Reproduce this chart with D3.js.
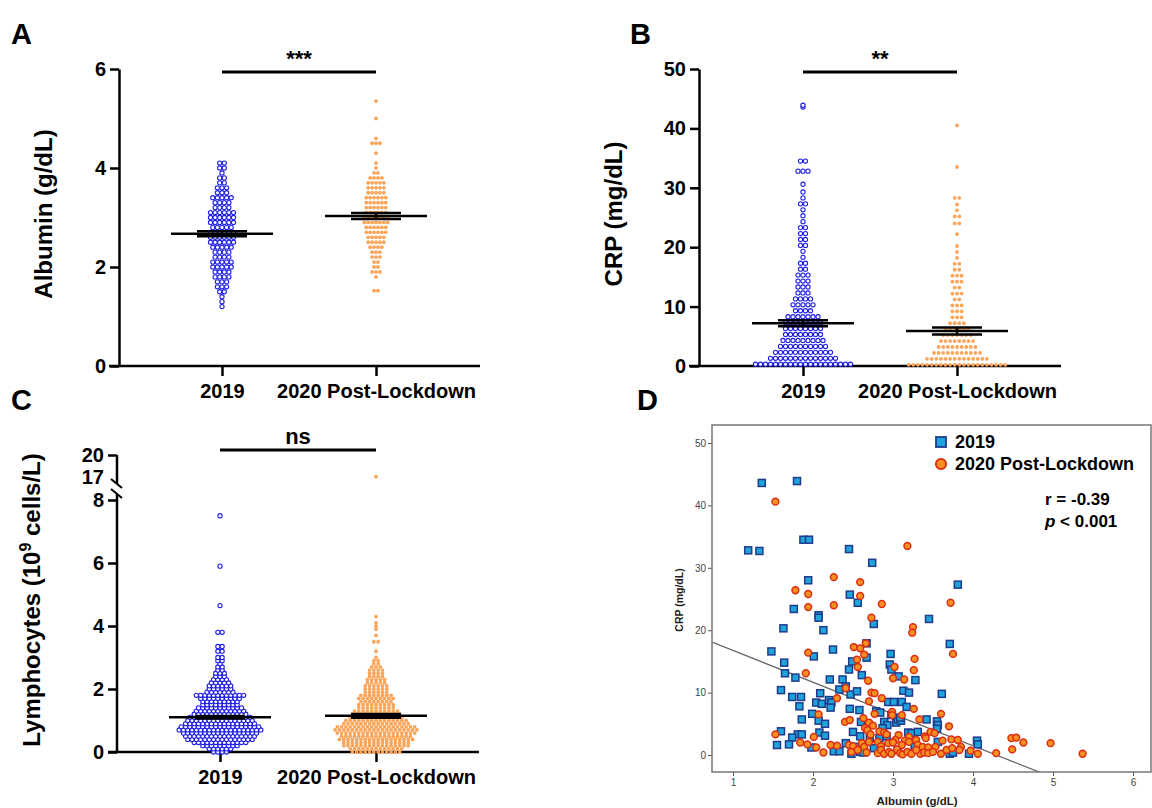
<!DOCTYPE html>
<html>
<head>
<meta charset="utf-8">
<script src="https://cdn.jsdelivr.net/npm/d3@7"></script>
<style>
body { margin: 0; background: #fff; }
svg { display: block; }
text { font-family: "Liberation Sans", Arial, sans-serif; }
</style>
</head>
<body>
<svg width="1152" height="808"></svg>
<script>
var groups = ["2019", "2020 Post-Lockdown"];

// swarm rows: [value, number of dots in the row]
var albumin2019 = [[1.2,1],[1.3,1],[1.4,1],[1.5,2],[1.6,3],[1.7,3],[1.8,4],[1.9,4],[2.0,5],[2.1,5],[2.2,4],[2.3,4],[2.4,5],[2.5,6],[2.6,6],[2.7,6],[2.8,5],[2.9,6],[3.0,6],[3.1,6],[3.2,4],[3.3,4],[3.4,5],[3.5,3],[3.6,3],[3.7,2],[3.8,2],[3.9,1],[4.0,2],[4.1,2]];
var albumin2020 = [[1.52,2],[1.8,1],[1.9,3],[2.0,2],[2.1,2],[2.2,3],[2.3,3],[2.4,4],[2.5,5],[2.6,5],[2.7,6],[2.8,6],[2.9,7],[3.0,7],[3.1,6],[3.2,6],[3.3,6],[3.4,6],[3.5,5],[3.6,5],[3.7,5],[3.8,4],[3.9,2],[4.0,1],[4.1,1],[4.3,1],[4.5,3],[4.6,1],[5.0,1],[5.35,1]];
var albuminMean = [2.67, 3.03], albuminSem = [0.05, 0.06];

var crp2019 = [[0.3,20],[1.3,14],[2.3,12],[3.3,10],[4.3,9],[5.3,8],[6.3,8],[7.3,8],[8.3,7],[9.3,4],[10.3,5],[11.3,4],[12.3,3],[13.3,3],[14.3,3],[15.3,3],[16.3,2],[17.3,2],[18.3,1],[19.3,1],[20.3,2],[21.3,2],[22.3,2],[23.3,2],[24.3,1],[25.3,1],[26.3,1],[27.3,2],[28.3,1],[29.3,1],[30.6,1],[32.8,3],[34.5,2],[43.6,1],[43.9,1]];
var crp2020 = [[0.2,22],[1.2,14],[2.2,11],[3.2,9],[4.2,8],[5.2,7],[6.2,6],[7.2,4],[8.2,3],[9.2,3],[10.2,3],[11.2,2],[12.2,3],[13.2,2],[14.2,3],[15.2,3],[16.2,2],[17.2,2],[18.2,1],[19.2,1],[20.2,1],[22.2,1],[24.0,2],[25.2,2],[26.2,1],[27.2,1],[28.3,2],[33.5,1],[40.5,1]];
var crpMean = [7.2, 5.9], crpSem = [0.5, 0.6];

var lym2019 = [[0.0,4],[0.1,6],[0.2,9],[0.3,13],[0.4,16],[0.5,17],[0.6,18],[0.7,20],[0.8,19],[0.9,17],[1.0,16],[1.1,15],[1.2,13],[1.3,12],[1.4,11],[1.5,9],[1.6,9],[1.7,10],[1.8,12],[1.9,7],[2.0,6],[2.1,6],[2.2,5],[2.3,4],[2.4,3],[2.5,3],[2.6,2],[2.7,2],[2.8,1],[2.9,2],[3.0,2],[3.2,2],[3.35,2],[3.8,2],[4.65,1],[5.9,1],[7.5,1]];
var lym2020 = [[0.0,12],[0.1,13],[0.2,16],[0.3,16],[0.4,18],[0.5,17],[0.6,19],[0.7,20],[0.8,19],[0.9,16],[1.0,15],[1.1,13],[1.2,12],[1.3,11],[1.4,9],[1.5,9],[1.6,8],[1.7,9],[1.8,8],[1.9,6],[2.0,6],[2.1,6],[2.2,5],[2.3,5],[2.4,4],[2.5,4],[2.6,4],[2.7,3],[2.8,2],[2.9,2],[3.0,1],[3.2,1],[3.5,2],[3.7,1],[3.9,1],[4.0,1],[4.1,1],[4.3,1],[17.5,1]];
var lymMean = [1.1, 1.15], lymSem = [0.04, 0.06];

var sigLabels = ["***", "**", "ns"];

// panel D scatter, [albumin, crp]
var scatter2019 = [[1.36,43.6],[1.80,43.9],[1.19,32.8],[1.33,32.7],[1.88,34.5],[1.95,34.5],[2.45,33.0],[2.74,30.8],[1.94,28.0],[3.81,27.3],[2.46,25.7],[2.56,24.4],[1.76,23.4],[2.07,22.4],[2.07,22.0],[2.76,21.0],[1.63,20.3],[2.13,20.0],[3.45,21.8],[1.48,16.6],[2.25,16.9],[3.71,17.8],[1.64,14.8],[2.01,15.8],[2.49,15.0],[2.45,13.7],[2.67,17.9],[2.67,15.6],[2.61,12.8],[2.97,16.2],[2.96,14.5],[2.98,13.7],[3.07,12.6],[3.28,12.0],[1.65,13.1],[1.78,12.4],[2.21,12.1],[2.37,12.1],[2.33,10.5],[2.41,11.0],[1.60,10.4],[1.74,9.3],[1.85,9.3],[2.09,9.9],[2.47,9.7],[2.55,10.2],[3.13,10.3],[3.20,10.0],[3.61,9.8],[1.83,7.8],[2.04,8.4],[2.11,8.2],[2.20,8.8],[2.23,8.4],[2.22,7.6],[2.46,7.4],[2.58,7.2],[2.94,8.5],[3.01,8.5],[3.11,8.5],[3.17,7.7],[2.79,7.0],[2.84,6.8],[1.99,6.6],[1.86,5.7],[2.07,5.5],[2.15,5.0],[2.60,5.3],[2.89,5.3],[2.93,4.8],[3.04,5.2],[3.06,5.7],[3.10,5.5],[3.55,5.4],[3.42,5.7],[3.56,4.8],[3.55,4.2],[1.60,3.8],[1.81,3.3],[1.86,3.3],[2.08,3.6],[2.15,3.1],[2.50,3.7],[2.59,3.0],[2.71,2.7],[2.92,3.0],[3.19,3.6],[3.23,3.5],[1.74,2.8],[1.55,1.6],[1.70,1.7],[1.98,1.2],[2.41,1.9],[2.53,1.3],[2.26,0.6],[2.33,0.6],[2.48,0.2],[2.59,0.5],[2.63,0.4],[2.76,1.1],[3.06,0.8],[3.27,1.3],[3.56,2.1],[3.95,0.2],[4.05,2.3],[4.06,1.7],[3.71,0.2],[3.75,0.4],[2.83,2.7],[2.87,4.3],[2.98,6.4],[3.09,6.0],[3.31,3.7]];
var scatter2020 = [[1.53,40.6],[3.18,33.5],[2.26,28.5],[2.59,27.7],[1.78,26.4],[1.94,25.8],[2.59,25.5],[1.94,23.7],[2.26,24.0],[2.86,24.2],[3.72,24.4],[2.73,22.0],[3.25,20.5],[3.24,19.6],[2.66,17.9],[2.51,17.3],[2.59,17.1],[2.64,16.1],[1.94,16.4],[3.75,16.2],[3.27,15.4],[2.55,15.3],[2.56,14.1],[3.02,14.1],[3.26,13.6],[1.91,13.1],[3.00,12.3],[3.14,12.1],[2.69,11.9],[2.41,10.7],[2.73,10.0],[2.77,9.9],[2.86,9.1],[2.30,9.1],[2.70,8.6],[3.26,7.4],[2.99,6.9],[2.99,6.4],[3.11,6.4],[2.07,6.5],[3.60,6.6],[2.77,6.6],[2.63,5.9],[3.33,5.7],[2.40,5.3],[2.46,5.6],[2.70,5.2],[2.75,4.7],[3.70,4.6],[2.65,4.3],[2.68,4.0],[2.83,3.8],[2.89,3.6],[2.92,3.3],[3.47,3.7],[3.52,3.5],[3.40,3.0],[3.41,2.7],[1.53,3.3],[2.01,2.9],[2.72,3.3],[3.07,3.2],[3.20,2.9],[3.03,2.4],[2.81,2.1],[2.70,2.1],[3.15,2.3],[3.29,2.4],[3.62,2.3],[3.73,2.5],[3.81,2.4],[4.48,2.7],[4.54,2.8],[4.63,2.0],[4.97,1.9],[1.84,2.0],[1.93,1.7],[2.04,1.2],[2.22,1.6],[2.30,1.5],[2.45,1.6],[2.50,1.4],[2.61,1.9],[2.64,1.3],[2.85,1.4],[2.94,1.9],[3.00,2.0],[3.11,1.6],[3.20,2.1],[3.31,1.6],[3.37,1.3],[3.44,1.2],[3.53,1.3],[3.85,1.3],[3.83,0.8],[3.97,0.7],[4.49,0.9],[2.13,0.4],[2.48,0.5],[2.56,0.8],[2.67,0.4],[2.81,0.3],[2.85,0.8],[2.89,0.2],[2.95,0.5],[2.98,0.2],[3.05,0.9],[3.09,0.3],[3.12,0.1],[3.18,0.5],[3.23,0.2],[3.34,0.2],[3.39,0.4],[3.44,0.3],[3.50,0.5],[3.60,0.2],[3.67,0.8],[4.06,0.2],[4.29,0.3],[5.37,0.2],[3.74,1.1],[3.29,0.8]];
var fitIntercept = 21.84, fitSlope = -5.09;
var statLines = ["r = -0.39", "< 0.001"];

var svg = d3.select("svg");
var blue = "#1f1fe8", orange = "#fba55a";
var fmt = d3.format("d");

function swarm(rows, cx, y, step) {
	var pts = [];
	rows.forEach(function(r) {
		for (var k = 0; k < r[1]; k++) pts.push([cx + (k - (r[1] - 1) / 2) * step, y(r[0])]);
	});
	return pts;
}

function styleAxis(g, size) {
	g.select(".domain").attr("stroke-width", 2.5);
	g.selectAll(".tick line").attr("stroke-width", 2.5);
	g.selectAll(".tick text").attr("font-size", size).attr("font-weight", "bold").attr("fill", "#000");
}

// one GraphPad-like dot plot
function dotPanel(o) {
	var g = svg.append("g");
	var x = d3.scalePoint().domain(groups).range(o.cx);

	// x axis
	g.append("line").attr("x1", o.xLeft).attr("x2", o.xRight).attr("y1", o.y0).attr("y2", o.y0)
		.attr("stroke", "#000").attr("stroke-width", 2.5);
	var xa = g.append("g").attr("transform", "translate(0," + o.y0 + ")")
		.call(d3.axisBottom(x).tickSize(10).tickPadding(8));
	xa.select(".domain").remove();
	styleAxis(xa, 20);

	// points
	g.selectAll(".a").data(swarm(o.data[0], x(groups[0]), o.y, o.step[0]))
		.enter().append("circle")
		.attr("cx", function(d) { return d[0]; })
		.attr("cy", function(d) { return d[1]; })
		.attr("r", 2.1)
		.attr("fill", "#fff").attr("stroke", blue).attr("stroke-width", 1.1);
	g.selectAll(".b").data(swarm(o.data[1], x(groups[1]), o.y, o.step[1]))
		.enter().append("circle")
		.attr("cx", function(d) { return d[0]; })
		.attr("cy", function(d) { return d[1]; })
		.attr("r", 1.9)
		.attr("fill", orange);

	// mean +/- SEM
	groups.forEach(function(grp, i) {
		var cx = x(grp), m = o.mean[i], s = o.sem[i];
		g.append("line").attr("x1", cx - 51).attr("x2", cx + 51).attr("y1", o.y(m)).attr("y2", o.y(m))
			.attr("stroke", "#000").attr("stroke-width", 2.5);
		[m - s, m + s].forEach(function(v) {
			g.append("line").attr("x1", cx - 25).attr("x2", cx + 25).attr("y1", o.y(v)).attr("y2", o.y(v))
				.attr("stroke", "#000").attr("stroke-width", 2.5);
		});
		g.append("line").attr("x1", cx).attr("x2", cx).attr("y1", o.y(m - s)).attr("y2", o.y(m + s))
			.attr("stroke", "#000").attr("stroke-width", 2.5);
	});

	// significance bar
	g.append("line").attr("x1", x(groups[0])).attr("x2", x(groups[1])).attr("y1", o.sigY).attr("y2", o.sigY)
		.attr("stroke", "#000").attr("stroke-width", 3);
	g.append("text").attr("x", (x(groups[0]) + x(groups[1])) / 2).attr("y", o.sigY - 6)
		.attr("text-anchor", "middle").attr("font-size", 22).attr("font-weight", "bold").text(o.sig);

	// panel letter
	g.append("text").attr("x", o.letterPos[0]).attr("y", o.letterPos[1])
		.attr("font-size", 29).attr("font-weight", "bold").text(o.letter);
	return g;
}

// A
var yA = d3.scaleLinear().domain([0, 6]).range([366, 69]);
var gA = dotPanel({data: [albumin2019, albumin2020], mean: albuminMean, sem: albuminSem, y: yA, y0: 366,
	cx: [222, 376], xLeft: 109, xRight: 480, step: [4.6, 3.9], sigY: 72, sig: sigLabels[0], letter: "A", letterPos: [11, 44]});
var axA = gA.append("g").attr("transform", "translate(119,0)")
	.call(d3.axisLeft(yA).tickValues([0, 2, 4, 6]).tickFormat(fmt).tickSize(9).tickSizeOuter(0).tickPadding(4));
styleAxis(axA, 20);
gA.append("text").attr("transform", "translate(52,214) rotate(-90)").attr("text-anchor", "middle")
	.attr("font-size", 24).attr("font-weight", "bold").text("Albumin (g/dL)");

// B
var yB = d3.scaleLinear().domain([0, 50]).range([366, 69]);
var gB = dotPanel({data: [crp2019, crp2020], mean: crpMean, sem: crpSem, y: yB, y0: 366,
	cx: [803, 957], xLeft: 689, xRight: 1061, step: [5, 4.6], sigY: 72, sig: sigLabels[1], letter: "B", letterPos: [630, 44]});
var axB = gB.append("g").attr("transform", "translate(699,0)")
	.call(d3.axisLeft(yB).tickValues([0, 10, 20, 30, 40, 50]).tickFormat(fmt).tickSize(9).tickSizeOuter(0).tickPadding(4));
styleAxis(axB, 20);
gB.append("text").attr("transform", "translate(622,214) rotate(-90)").attr("text-anchor", "middle")
	.attr("font-size", 24).attr("font-weight", "bold").text("CRP (mg/dL)");

// C, broken y axis
var yLow = d3.scaleLinear().domain([0, 8]).range([752, 500]);
var yUp = d3.scaleLinear().domain([17, 20]).range([481, 455]);
function yC(v) { return v > 10 ? yUp(v) : yLow(v); }
var gC = dotPanel({data: [lym2019, lym2020], mean: lymMean, sem: lymSem, y: yC, y0: 752,
	cx: [220, 376], xLeft: 108, xRight: 479, step: [4.3, 4.3], sigY: 450, sig: sigLabels[2], letter: "C", letterPos: [11, 410]});
var axC1 = gC.append("g").attr("transform", "translate(117,0)")
	.call(d3.axisLeft(yLow).tickValues([0, 2, 4, 6, 8]).tickFormat(fmt).tickSize(9).tickSizeOuter(0).tickPadding(4));
styleAxis(axC1, 20);
axC1.select(".domain").attr("d", "M0," + yLow(0) + "V" + (yLow(8) - 6));
var axC2 = gC.append("g").attr("transform", "translate(117,0)")
	.call(d3.axisLeft(yUp).tickValues([17, 20]).tickFormat(fmt).tickSize(9).tickSizeOuter(0).tickPadding(4));
styleAxis(axC2, 20);
var t17 = axC2.selectAll(".tick").filter(function(d) { return d === 17; });
t17.select("line").remove();
t17.select("text").attr("dy", "0.1em");
axC2.select(".domain").attr("d", "M0," + yUp(20) + "V" + (yUp(17) + 3));
[yUp(17), yLow(8) - 9].forEach(function(yy) {
	gC.append("line").attr("x1", 111).attr("x2", 122).attr("y1", yy - 2).attr("y2", yy + 7)
		.attr("stroke", "#000").attr("stroke-width", 2);
});
var tC = gC.append("text").attr("transform", "translate(40,600) rotate(-90)").attr("text-anchor", "middle")
	.attr("font-size", 24).attr("font-weight", "bold");
tC.append("tspan").text("Lymphocytes (10");
tC.append("tspan").attr("font-size", 16).attr("dy", -9).text("9");
tC.append("tspan").attr("dy", 9).text(" cells/L)");

// D scatter
var frame = {left: 712, right: 1151, top: 425, bottom: 772};
var xD = d3.scaleLinear().domain([1, 6]).range([733, 1133]);
var yD = d3.scaleLinear().domain([0, 50]).range([755, 443]);
var gD = svg.append("g");
gD.append("defs").append("clipPath").attr("id", "clipD").append("rect")
	.attr("x", frame.left).attr("y", frame.top).attr("width", frame.right - frame.left).attr("height", frame.bottom - frame.top);

var xaD = gD.append("g").attr("transform", "translate(0," + frame.bottom + ")")
	.call(d3.axisBottom(xD).ticks(6).tickSize(4).tickPadding(3));
var yaD = gD.append("g").attr("transform", "translate(" + frame.left + ",0)")
	.call(d3.axisLeft(yD).tickValues([0, 10, 20, 30, 40, 50]).tickSize(4).tickPadding(2));
[xaD, yaD].forEach(function(a) {
	a.select(".domain").remove();
	a.selectAll(".tick line").attr("stroke", "#555");
	a.selectAll(".tick text").attr("font-size", 10).attr("fill", "#444");
});

var plot = gD.append("g").attr("clip-path", "url(#clipD)");
plot.append("line")
	.attr("x1", frame.left).attr("y1", yD(fitIntercept + fitSlope * xD.invert(frame.left)))
	.attr("x2", xD(6)).attr("y2", yD(fitIntercept + fitSlope * 6))
	.attr("stroke", "#666").attr("stroke-width", 1.3);

plot.selectAll(".sq").data(scatter2019).enter().append("rect")
	.attr("x", function(d) { return xD(d[0]) - 3.5; })
	.attr("y", function(d) { return yD(d[1]) - 3.5; })
	.attr("width", 7).attr("height", 7)
	.attr("fill", "#1ea3da").attr("stroke", "#1f3b8c").attr("stroke-width", 1.5);
plot.selectAll(".ci").data(scatter2020).enter().append("circle")
	.attr("cx", function(d) { return xD(d[0]); })
	.attr("cy", function(d) { return yD(d[1]); })
	.attr("r", 3.4)
	.attr("fill", "#f7901f").attr("stroke", "#dc2d14").attr("stroke-width", 1.5);

gD.append("rect").attr("x", frame.left).attr("y", frame.top)
	.attr("width", frame.right - frame.left).attr("height", frame.bottom - frame.top)
	.attr("fill", "none").attr("stroke", "#777").attr("stroke-width", 1.5);

// legend
gD.append("rect").attr("x", 936).attr("y", 437).attr("width", 10).attr("height", 10)
	.attr("fill", "#1ea3da").attr("stroke", "#1f3b8c").attr("stroke-width", 1.8);
gD.append("circle").attr("cx", 941).attr("cy", 464).attr("r", 5.2)
	.attr("fill", "#f7901f").attr("stroke", "#dc2d14").attr("stroke-width", 1.8);
[["2019", 448], ["2020 Post-Lockdown", 470]].forEach(function(l) {
	gD.append("text").attr("x", 955).attr("y", l[1]).attr("font-size", 18).attr("font-weight", "bold").text(l[0]);
});
gD.append("text").attr("x", 1045).attr("y", 505).attr("font-size", 17).attr("font-weight", "bold").text(statLines[0]);
var pT = gD.append("text").attr("x", 1045).attr("y", 527).attr("font-size", 17).attr("font-weight", "bold");
pT.append("tspan").attr("font-style", "italic").text("p");
pT.append("tspan").text(" " + statLines[1]);

gD.append("text").attr("transform", "translate(683,600) rotate(-90)").attr("text-anchor", "middle")
	.attr("font-size", 10.5).attr("font-weight", "bold").attr("fill", "#222").text("CRP (mg/dL)");
gD.append("text").attr("x", 917).attr("y", 805).attr("text-anchor", "middle")
	.attr("font-size", 11.5).attr("font-weight", "bold").attr("fill", "#222").text("Albumin (g/dL)");
gD.append("text").attr("x", 637).attr("y", 410).attr("font-size", 29).attr("font-weight", "bold").text("D");
</script>
</body>
</html>
